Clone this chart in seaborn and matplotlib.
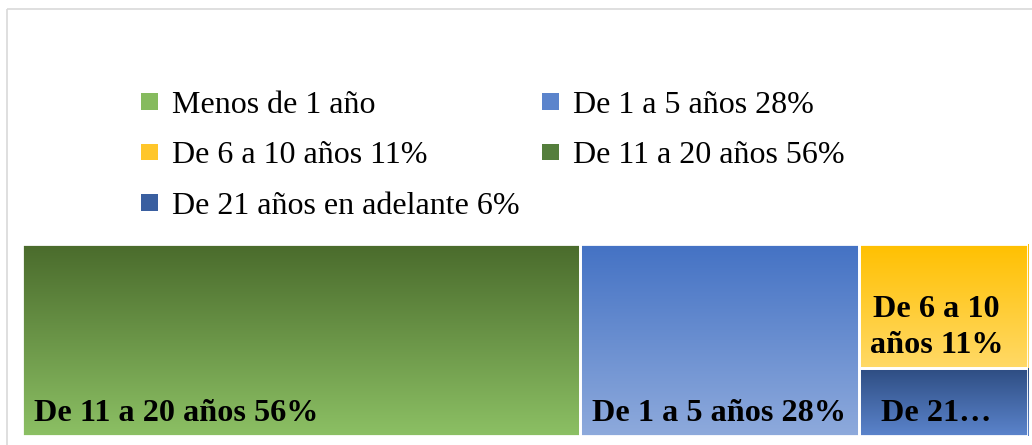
import numpy as np
import matplotlib
matplotlib.use("Agg")
import matplotlib.pyplot as plt
import seaborn as sns
from matplotlib.colors import LinearSegmentedColormap
from matplotlib.patches import Rectangle, Patch

# datos del treemap
categorias = ["De 11 a 20 años", "De 1 a 5 años", "De 6 a 10 años", "De 21 años en adelante"]
valores = [56, 28, 11, 6]
etiquetas = ["De 11 a 20 años 56%", "De 1 a 5 años 28%", "De 6 a 10\naños 11%", "De 21…"]

# leyenda (incluye la categoría vacía)
leyenda_textos = ["Menos de 1 año", "De 1 a 5 años 28%", "De 6 a 10 años 11%",
                  "De 11 a 20 años 56%", "De 21 años en adelante 6%"]

# degradados (arriba, abajo)
colores = [("#4a6b2c", "#8cc064"), ("#4472c4", "#8eaadc"),
           ("#ffc000", "#ffd966"), ("#2e4d82", "#5b84cc")]
colores_leyenda = ["#86bb5e", "#5b84cc", "#ffc62a", "#547e3c", "#3a5fa0"]

sns.set_theme(style="white")
plt.rcParams["font.family"] = ["Liberation Serif", "DejaVu Serif"]
plt.rcParams["text.color"] = "black"

W, H = 1032, 445
fig = plt.figure(figsize=(W / 100, H / 100), dpi=100)

# marco gris
frame = fig.add_axes([0, 0, 1, 1])
frame.set_xlim(0, W)
frame.set_ylim(H, 0)
frame.axis("off")
frame.add_patch(Rectangle((6.5, 8.5), W, H, fill=False, edgecolor="#d9d9d9", linewidth=1.2))

# área del treemap
ax = fig.add_axes([22 / W, (H - 436) / H, 1006 / W, 192 / H])
total = sum(valores)

# disposición: dos columnas completas y el resto apilado
rects = []
x = 0
for v in valores[:2]:
    rects.append((x, 0, v, 1))
    x += v
resto = sum(valores[2:])
y = 1
for v in valores[2:]:
    h = v / resto
    rects.append((x, y - h, resto, h))
    y -= h

grad = np.linspace(0, 1, 256).reshape(-1, 1)
for (x0, y0, w, h), (c1, c2) in zip(rects, colores):
    cmap = LinearSegmentedColormap.from_list("g", [c1, c2])
    ax.imshow(grad, cmap=cmap, extent=(x0, x0 + w, y0, y0 + h), origin="upper",
              aspect="auto", interpolation="bilinear", zorder=1)
    ax.add_patch(Rectangle((x0, y0), w, h, fill=False, edgecolor="white", linewidth=2, zorder=2))

for i, ((x0, y0, w, h), txt) in enumerate(zip(rects, etiquetas)):
    if i < 2:
        ax.annotate(txt, (x0, y0), xytext=(9, 6), textcoords="offset points",
                    ha="left", va="bottom", fontsize=23.2, fontweight="bold", zorder=3)
    else:
        ax.annotate(txt, (x0 + w / 2, y0), xytext=(-5, 6), textcoords="offset points",
                    ha="center", va="bottom", fontsize=23.2, fontweight="bold",
                    linespacing=1.32, multialignment="center", zorder=3)

ax.set_xlim(0, total)
ax.set_ylim(0, 1)
ax.axis("off")

# leyenda en orden por columnas
orden = [0, 2, 4, 1, 3]
handles = [Patch(facecolor=colores_leyenda[i], edgecolor="none") for i in orden]
labels = [leyenda_textos[i] for i in orden]
fig.legend(handles, labels, ncol=2, loc="upper left", bbox_to_anchor=(141 / W, 1 - 91 / H),
           frameon=False, fontsize=23, borderpad=0, borderaxespad=0,
           handlelength=0.52, handleheight=0.44, handletextpad=0.45,
           labelspacing=0.67, columnspacing=0.7)

fig.savefig("out.png", dpi=100)
